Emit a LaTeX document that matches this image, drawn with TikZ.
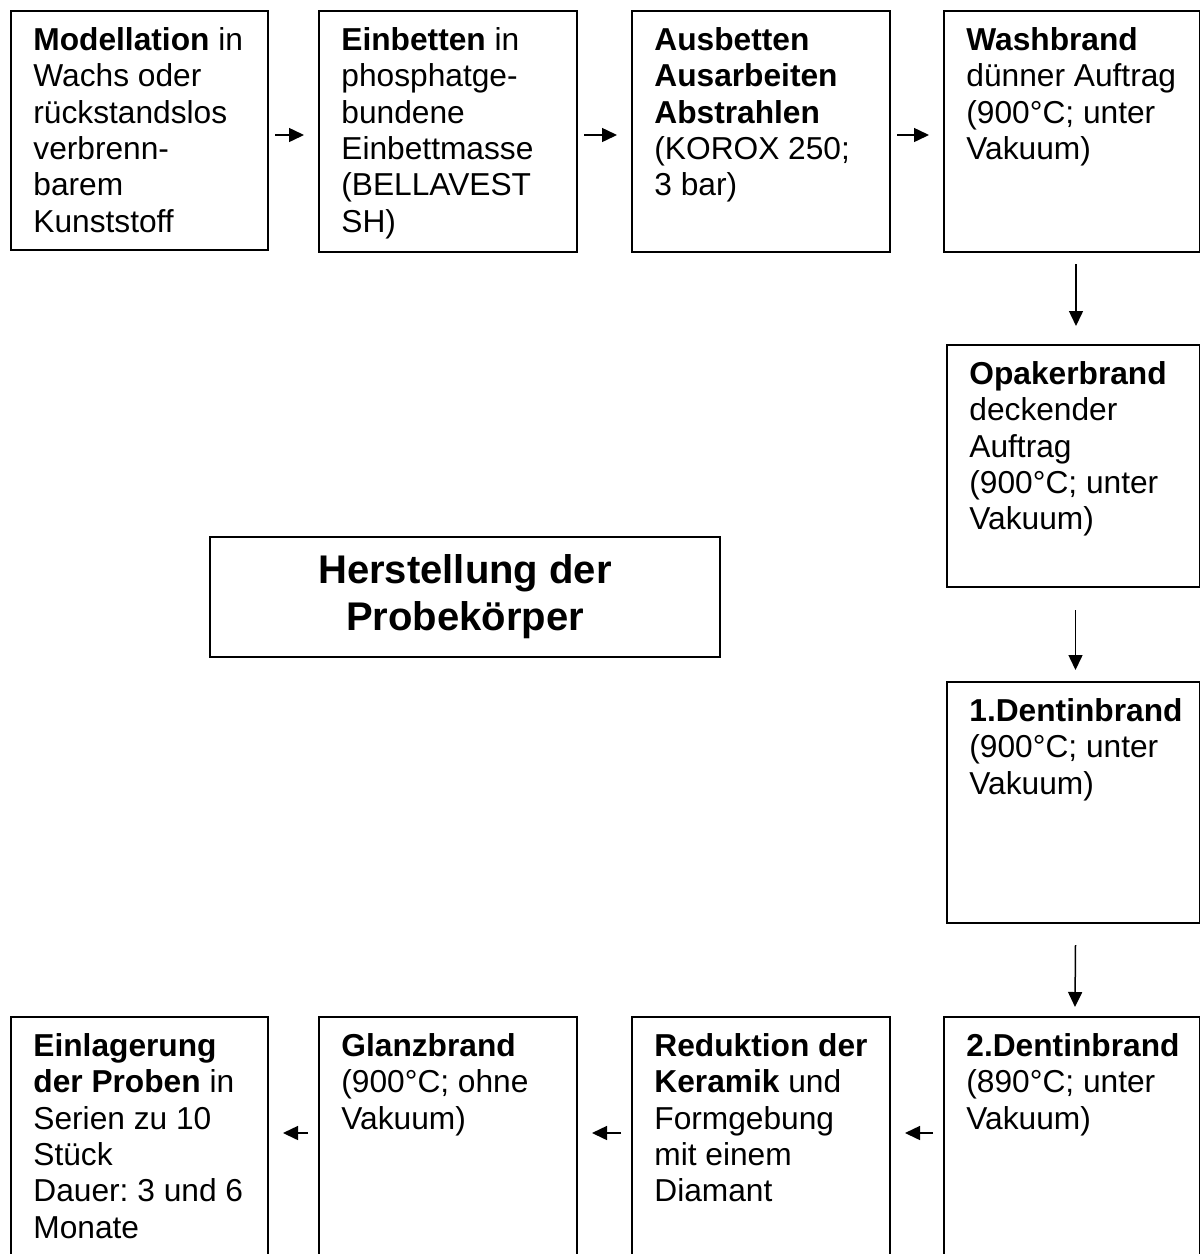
\documentclass[tikz,border=0pt]{standalone}
\usepackage{fontspec}
\setmainfont{Liberation Sans}
\usetikzlibrary{arrows.meta}
\frenchspacing
\begin{document}
\begin{tikzpicture}[x=0.5pt,y=-0.5pt,
  box/.style 2 args={draw, line width=1pt, anchor=north west, inner sep=0pt, minimum width=#1, minimum height=#2},
  txt/.style={anchor=north west, inner sep=0pt, align=left, font=\fontsize{15.85pt}{18.2pt}\selectfont},
  ttl/.style={inner sep=0pt, align=center, font=\fontsize{20pt}{23.5pt}\selectfont\bfseries},
  arr/.style={line width=0.75pt, -{Triangle[length=7.5pt,width=7pt]}}]
\clip (0,0) rectangle (1200,1254);
% boxes
\node[box={128.5pt}{119.5pt}] (b1) at (10,10) {};
\node[box={129pt}{120.5pt}] (b2) at (318,10) {};
\node[box={129pt}{120.5pt}] (b3) at (631,10) {};
\node[box={128pt}{120.5pt}] (b4) at (943,10) {};
\node[box={126.5pt}{121pt}] (b5) at (946,344) {};
\node[box={126.5pt}{120.5pt}] (b6) at (946,681) {};
\node[box={128pt}{123pt}] (b7) at (943,1016) {};
\node[box={129pt}{123pt}] (b8) at (631,1016) {};
\node[box={129pt}{123pt}] (b9) at (318,1016) {};
\node[box={128.5pt}{123pt}] (b10) at (10,1016) {};
\node[box={255pt}{60pt}] (t) at (209,536) {};
% texts
\node[txt] (t1) at ([xshift=11.5pt,yshift=-7.25pt]b1.north west) {\strut\textbf{Modellation} in\\Wachs oder\\rückstandslos\\verbrenn-\\barem\\Kunststoff};
\node[txt] (t2) at ([xshift=11.5pt,yshift=-7.25pt]b2.north west) {\strut\textbf{Einbetten} in\\phosphatge-\\bundene\\Einbettmasse\\(BELLAVEST\\SH)};
\node[txt] (t3) at ([xshift=11.5pt,yshift=-7.25pt]b3.north west) {\strut\textbf{Ausbetten}\\\textbf{Ausarbeiten}\\\textbf{Abstrahlen}\\(KOROX 250;\\3 bar)};
\node[txt] (t4) at ([xshift=11.5pt,yshift=-7.25pt]b4.north west) {\strut\textbf{Washbrand}\\dünner Auftrag\\(900°C; unter\\Vakuum)};
\node[txt] (t5) at ([xshift=11.5pt,yshift=-7.25pt]b5.north west) {\strut\textbf{Opakerbrand}\\deckender\\Auftrag\\(900°C; unter\\Vakuum)};
\node[txt] (t6) at ([xshift=11.5pt,yshift=-7.25pt]b6.north west) {\strut\textbf{1.Dentinbrand}\\(900°C; unter\\Vakuum)};
\node[txt] (t7) at ([xshift=11.5pt,yshift=-7.25pt]b7.north west) {\strut\textbf{2.Dentinbrand}\\(890°C; unter\\Vakuum)};
\node[txt] (t8) at ([xshift=11.5pt,yshift=-7.25pt]b8.north west) {\strut\textbf{Reduktion der}\\\textbf{Keramik} und\\Formgebung\\mit einem\\Diamant};
\node[txt] (t9) at ([xshift=11.5pt,yshift=-7.25pt]b9.north west) {\strut\textbf{Glanzbrand}\\(900°C; ohne\\Vakuum)};
\node[txt] (t10) at ([xshift=11.5pt,yshift=-7.25pt]b10.north west) {\strut\textbf{Einlagerung}\\\textbf{der Proben} in\\Serien zu 10\\Stück\\Dauer: 3 und 6\\Monate};
\node[ttl] (tt) at (t.center) {Herstellung der\\Probekörper};
% arrows top row
\draw[arr] ([xshift=3pt,yshift=-62.5pt]b1.north east) -- ([xshift=-7pt,yshift=-62.5pt]b2.north west);
\draw[arr] ([xshift=3pt,yshift=-62.5pt]b2.north east) -- ([xshift=-7pt,yshift=-62.5pt]b3.north west);
\draw[arr] ([xshift=3pt,yshift=-62.5pt]b3.north east) -- ([xshift=-7pt,yshift=-62.5pt]b4.north west);
% arrows right column
\draw[arr] ([xshift=2pt,yshift=-5.5pt]b4.south) -- ([xshift=1.25pt,yshift=9pt]b5.north);
\draw[arr] ([xshift=1pt,yshift=-11pt]b5.south) -- ([xshift=1pt,yshift=5.5pt]b6.north);
\draw[arr] ([xshift=1pt,yshift=-10.5pt]b6.south) -- ([xshift=1.5pt,yshift=4.5pt]b7.north);
% arrows bottom row
\draw[arr] ([xshift=-5pt,yshift=-58.5pt]b7.north west) -- ([xshift=7pt,yshift=-58.5pt]b8.north east);
\draw[arr] ([xshift=-5pt,yshift=-58.5pt]b8.north west) -- ([xshift=7pt,yshift=-58.5pt]b9.north east);
\draw[arr] ([xshift=-5pt,yshift=-58.5pt]b9.north west) -- ([xshift=7pt,yshift=-58.5pt]b10.north east);
\end{tikzpicture}
\end{document}
